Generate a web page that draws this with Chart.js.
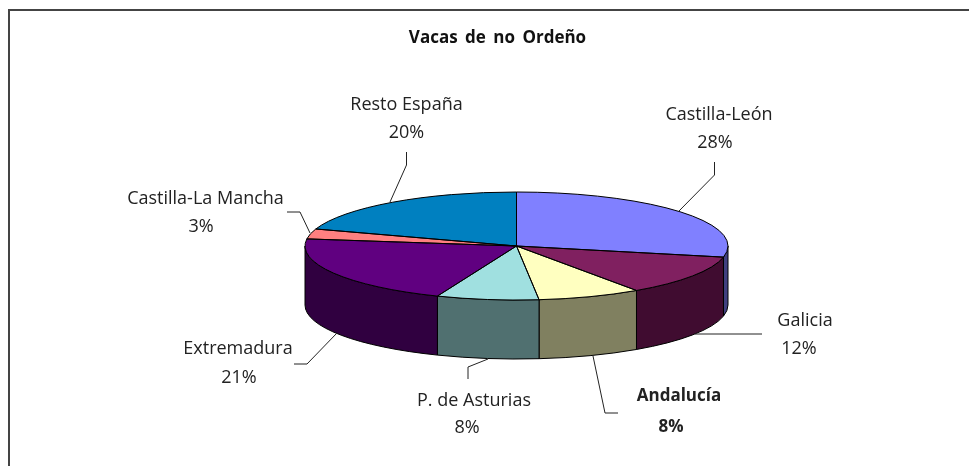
<!DOCTYPE html>
<html>
<head>
<meta charset="utf-8">
<style>html,body{margin:0;padding:0;background:#fff}canvas{display:block}</style>
<script src="https://cdn.jsdelivr.net/npm/chart.js@4"></script>
</head>
<body>
<canvas id="c" width="969" height="466"></canvas>
<script>
const titleText = 'Vacas de no Ordeño';
const categories = ['Castilla-León','Galicia','Andalucía','P. de Asturias','Extremadura','Castilla-La Mancha','Resto España'];
const shares = [28.3,12.1,7.9,7.8,21.0,3.0,19.9];
const topColors = ['#8080FF','#802060','#FFFFC0','#A0E0E0','#600080','#FF8080','#0080C0'];
const sideColors = ['#404080','#400C30','#808060','#507070','#300040','#804040','#004060'];

const FONT = '"Open Sans"';
const view = {cx:516.5, cy:246, rx:211.5, ry:54, depth:59};
const labelLayout = [
  {nx:719,ny:115,px:715,py:143,line:[[714.5,162],[714.5,175],[679,211]]},
  {nx:805,ny:321,px:799,py:349,line:[[695,334],[762,334]]},
  {nx:679,ny:396,px:671,py:427,bold:true,line:[[593,356],[605,413],[618,413]]},
  {nx:474,ny:401,px:467,py:428,line:[[468,379],[468,367],[488,359]]},
  {nx:238,ny:349,px:239,py:378,line:[[294,364],[307,364],[337,333]]},
  {nx:205.5,ny:199,px:201,py:227,line:[[287,212],[300,212],[310,233]]},
  {nx:406.5,ny:105,px:406.5,py:133,line:[[406.5,152],[406.5,165],[390,202]]}
];

const pie3d = {
  id:'pie3d',
  beforeDraw(chart){
    chart.ctx.wordSpacing = '3px';
  },
  beforeDatasetsDraw(chart){
    const ctx = chart.ctx, v = view, arcs = chart.getDatasetMeta(0).data;
    ctx.save();
    ctx.lineWidth = 1; ctx.strokeStyle = '#000';
    arcs.forEach((el,i)=>{
      const a0 = Math.max(el.startAngle,0), a1 = Math.min(el.endAngle,Math.PI);
      if (a1 <= a0) return;
      ctx.beginPath();
      ctx.ellipse(v.cx,v.cy,v.rx,v.ry,0,a0,a1);
      ctx.ellipse(v.cx,v.cy+v.depth,v.rx,v.ry,0,a1,a0,true);
      ctx.closePath();
      ctx.fillStyle = sideColors[i];
      ctx.fill(); ctx.stroke();
    });
    ctx.restore();
  },
  beforeDatasetDraw(chart){
    const ctx = chart.ctx, v = view, el = chart.getDatasetMeta(0).data[0];
    ctx.save();
    ctx.translate(v.cx,v.cy);
    ctx.scale(v.rx/el.outerRadius, v.ry/el.outerRadius);
    ctx.translate(-el.x,-el.y);
  },
  afterDatasetDraw(chart){ chart.ctx.restore(); },
  afterDatasetsDraw(chart){
    const ctx = chart.ctx, v = view, arcs = chart.getDatasetMeta(0).data;
    ctx.save();
    ctx.lineWidth = 1; ctx.strokeStyle = '#000';
    arcs.forEach(el=>{
      ctx.beginPath();
      ctx.moveTo(v.cx,v.cy);
      ctx.ellipse(v.cx,v.cy,v.rx,v.ry,0,el.startAngle,el.endAngle);
      ctx.closePath();
      ctx.stroke();
    });
    // leader lines
    ctx.strokeStyle = '#222';
    labelLayout.forEach(l=>{
      ctx.beginPath();
      l.line.forEach((p,j)=> j ? ctx.lineTo(p[0],p[1]) : ctx.moveTo(p[0],p[1]));
      ctx.stroke();
    });
    // labels
    ctx.fillStyle = '#222';
    ctx.textAlign = 'center'; ctx.textBaseline = 'middle';
    ctx.wordSpacing = '0px';
    const total = shares.reduce((a,b)=>a+b,0);
    labelLayout.forEach((l,i)=>{
      ctx.font = (l.bold ? 'bold 17px ' : '18px ') + FONT;
      ctx.fillText(categories[i], l.nx, l.ny);
      ctx.fillText(Math.round(shares[i]/total*100)+'%', l.px, l.py);
    });
    // frame
    ctx.strokeStyle = '#444'; ctx.lineWidth = 2;
    ctx.beginPath();
    ctx.moveTo(9,466); ctx.lineTo(9,10); ctx.lineTo(969,10);
    ctx.stroke();
    ctx.restore();
  }
};

new Chart(document.getElementById('c'),{
  type:'pie',
  data:{labels:categories,datasets:[{data:shares,backgroundColor:topColors,borderWidth:0,clip:false,hoverOffset:0}]},
  options:{
    responsive:false,animation:false,radius:212,
    layout:{padding:{left:26,top:0}},
    plugins:{
      legend:{display:false},tooltip:{enabled:false},
      title:{display:true,text:titleText,color:'#111',font:{family:FONT,size:17,weight:'bold'},padding:{top:28,bottom:10}}
    }
  },
  plugins:[pie3d]
});
</script>
</body>
</html>
